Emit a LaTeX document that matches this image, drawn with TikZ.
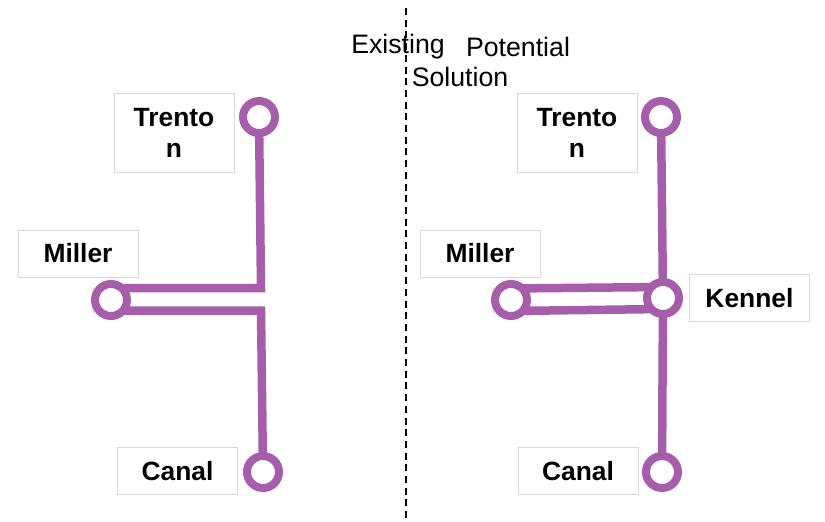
\documentclass[tikz,border=0pt]{standalone}
\usepackage{fontspec}
\setmainfont{Liberation Sans}
\usetikzlibrary{backgrounds}
\definecolor{purp}{RGB}{166,94,171}
\definecolor{boxline}{RGB}{217,217,217}
\tikzset{
  station/.style={circle, draw=purp, line width=8pt, fill=white, minimum size=32pt, inner sep=0pt},
  track/.style={draw=purp, line width=8.5pt, line join=miter},
  namebox/.style={draw=boxline, line width=1pt, fill=white, minimum width=120pt, minimum height=47pt, inner sep=0pt, align=center, font=\bfseries\fontsize{26.4}{31}\selectfont},
  label/.style={inner sep=0pt, font=\fontsize{26.7}{30}\selectfont}
}
\begin{document}
\begin{tikzpicture}[x=1pt,y=-1pt]
\useasboundingbox (0,0) rectangle (825,522);
\coordinate (dtop) at (406,8);
\coordinate (dbot) at (406,522);
\draw[line width=1.8pt, dash pattern=on 7pt off 4.7pt] (dtop) -- (dbot);
\node[label] (ex) at (398,47) {Existing};
\node[label] (pot) at (518,47) {Potential};
\node[label] (sol) at (460,77) {Solution};
% left
\node[namebox, minimum height=79pt] (tlb) at (174,132.5) {Trento\\n};
\node[namebox] (mlb) at (78,253.5) {Miller};
\node[namebox] (clb) at (177.5,471) {Canal};
\node[station] (tl) at (259,117) {};
\node[station] (ml) at (111,300) {};
\node[station] (cl) at (263,472) {};
\coordinate (jl1) at (261,288);
\coordinate (jl2) at (261,310.5);
% right
\node[namebox, minimum height=79pt] (trb) at (577,132.5) {Trento\\n};
\node[namebox] (mrb) at (480,253.5) {Miller};
\node[namebox] (kb) at (749.5,298) {Kennel};
\node[namebox] (crb) at (578,471) {Canal};
\node[station] (tr) at (661,117) {};
\node[station] (mr) at (511,300) {};
\node[station] (kn) at (663,298) {};
\node[station] (cr) at (662,472) {};
\begin{scope}[on background layer]
\draw[track] (ml.center |- jl1) -- (jl1) -- (tl.center);
\draw[track] (ml.center |- jl2) -- (jl2) -- (cl.center);
\draw[track] (tr.center) -- (kn.center) -- (cr.center);
\draw[track] ([yshift=11.5pt]mr.center) -- ([yshift=11pt]kn.center);
\draw[track] ([yshift=-11pt]mr.center) -- ([yshift=-11pt]kn.center);
\end{scope}
\end{tikzpicture}
\end{document}
